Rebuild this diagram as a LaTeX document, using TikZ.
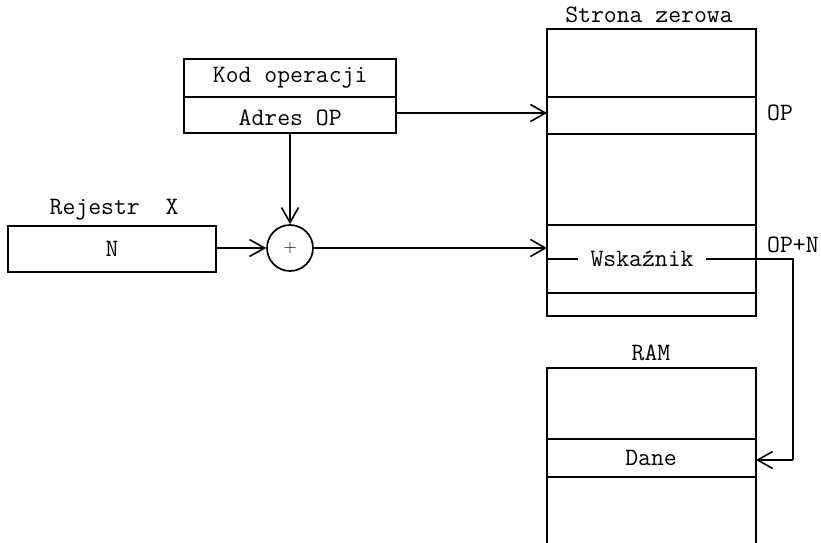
\documentclass[tikz,border=0pt]{standalone}
\usetikzlibrary{arrows.meta}
\begin{document}
\begin{tikzpicture}[x=1pt,y=-1pt,
  box/.style={draw,line width=2pt},
  wire/.style={line width=1.6pt},
  arr/.style={wire,-{Straight Barb[length=15pt,width=17pt,line width=1.6pt]}},
  lbl/.style={font=\ttfamily\fontsize{25}{28}\selectfont,inner sep=0pt},
  cell/.style={inner sep=0pt,minimum width=209pt}]
\useasboundingbox (0,0) rectangle (821,542);
\clip (0,0) rectangle (821,542);

% instruction word
\node[cell,minimum width=212pt,minimum height=38pt,anchor=north west] (kod) at (184,59) {};
\node[cell,minimum width=212pt,minimum height=36pt,anchor=north west] (adr) at (184,97) {};
\draw[box] (kod.north west) rectangle (adr.south east);
\draw[box] (kod.south west) -- (kod.south east);
\node[lbl] at (kod.center) {Kod operacji};
\node[lbl] at ([yshift=-3pt]adr.center) {Adres OP};

% index register
\node[box,inner sep=0pt,minimum width=208pt,minimum height=46pt,anchor=north west] (reg) at (7,225) {};
\node[lbl] at (reg.center) {N};
\node[lbl] (regt) at (114,210) {Rejestr\ \ X};

% adder
\node[draw,circle,line width=1.7pt,minimum size=46pt,inner sep=0pt] (sum) at (290,248) {};
\node[font=\fontsize{18}{18}\selectfont,inner sep=0pt] at (sum.center) {+};

% zero page
\coordinate (zpTL) at (547,29);
\coordinate (zpBR) at (756,316);
\draw[box] (zpTL) rectangle (zpBR);
\foreach \yy in {97,134,225,293} \draw[box] (547,\yy) -- (756,\yy);
\node[lbl] (zpt) at (649,15) {Strona zerowa};
\coordinate (opin) at (547,113);
\coordinate (ptrin) at (547,248);
\node[lbl,anchor=west] (op) at (767,113) {OP};
\node[lbl,anchor=west] (opn) at (767,245) {OP+N};
\node[lbl,inner xsep=12pt] (wsk) at (642,259) {Wskaźnik};
\coordinate (wskL) at (547,259);
\coordinate (turn1) at (793,259);
\coordinate (turn2) at (793,460);

% RAM
\draw[box] (547,600) -- (547,368) -- (756,368) -- (756,600);
\draw[box] (547,439) -- (756,439);
\draw[box] (547,477) -- (756,477);
\node[lbl] (ramt) at (651,353) {RAM};
\node[lbl] (dane) at (651,458) {Dane};
\coordinate (danein) at (756,460);

% connections
\draw[arr] (adr.east |- opin) -- (opin);
\draw[arr] (adr.south -| sum.north) -- (sum.north);
\draw[arr] (reg.east |- sum.west) -- (sum.west);
\draw[arr] (sum.east) -- (ptrin);
\draw[wire] (wskL) -- (wsk.west);
\draw[wire] (wsk.east) -- (turn1) -- (turn2);
\draw[arr] (turn2) -- (danein);
\end{tikzpicture}
\end{document}
